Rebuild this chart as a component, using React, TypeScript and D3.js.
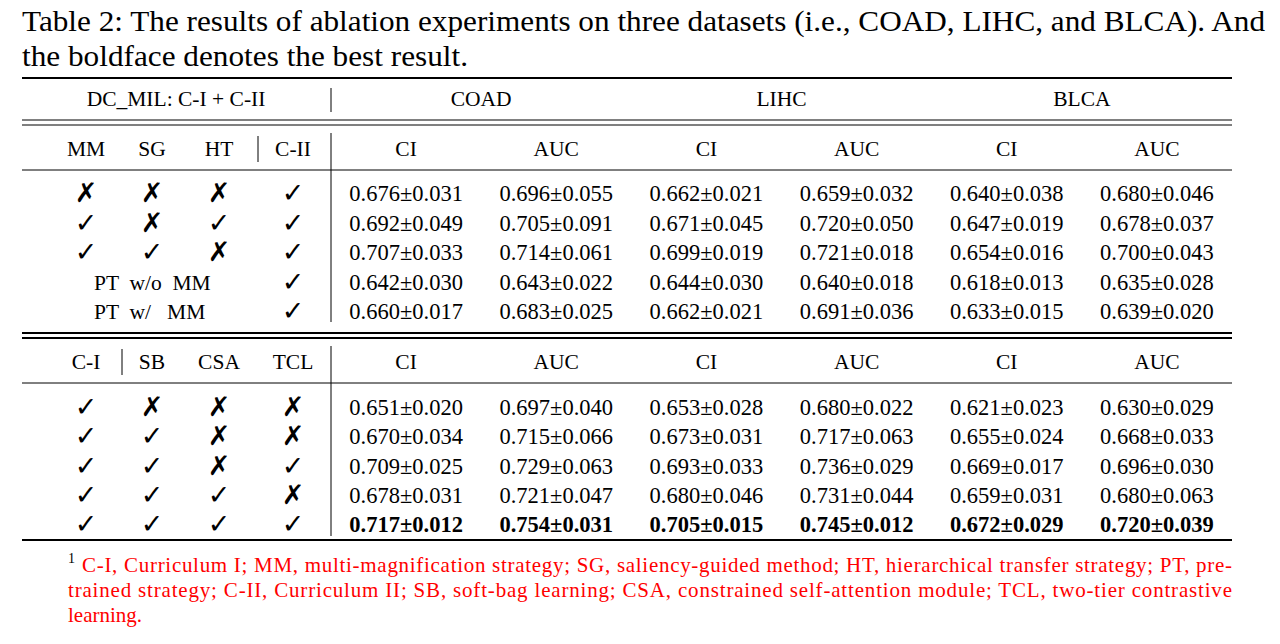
import * as d3 from "d3";

const datasets = ["COAD", "LIHC", "BLCA"];
const metrics = ["CI", "AUC", "CI", "AUC", "CI", "AUC"];
const headA = ["MM", "SG", "HT", "C-II"];
const headB = ["C-I", "SB", "CSA", "TCL"];

// marks: 1 = check, 0 = cross
const flagsA = [
  [0, 0, 0, 1],
  [1, 0, 1, 1],
  [1, 1, 0, 1],
];
const ptRows = ["PT  w/o  MM", "PT  w/   MM"];
const meansA = [
  [0.676, 0.696, 0.662, 0.659, 0.64, 0.68],
  [0.692, 0.705, 0.671, 0.72, 0.647, 0.678],
  [0.707, 0.714, 0.699, 0.721, 0.654, 0.7],
  [0.642, 0.643, 0.644, 0.64, 0.618, 0.635],
  [0.66, 0.683, 0.662, 0.691, 0.633, 0.639],
];
const stdsA = [
  [0.031, 0.055, 0.021, 0.032, 0.038, 0.046],
  [0.049, 0.091, 0.045, 0.05, 0.019, 0.037],
  [0.033, 0.061, 0.019, 0.018, 0.016, 0.043],
  [0.03, 0.022, 0.03, 0.018, 0.013, 0.028],
  [0.017, 0.025, 0.021, 0.036, 0.015, 0.02],
];
const flagsB = [
  [1, 0, 0, 0],
  [1, 1, 0, 0],
  [1, 1, 0, 1],
  [1, 1, 1, 0],
  [1, 1, 1, 1],
];
const meansB = [
  [0.651, 0.697, 0.653, 0.68, 0.621, 0.63],
  [0.67, 0.715, 0.673, 0.717, 0.655, 0.668],
  [0.709, 0.729, 0.693, 0.736, 0.669, 0.696],
  [0.678, 0.721, 0.68, 0.731, 0.659, 0.68],
  [0.717, 0.754, 0.705, 0.745, 0.672, 0.72],
];
const stdsB = [
  [0.02, 0.04, 0.028, 0.022, 0.023, 0.029],
  [0.034, 0.066, 0.031, 0.063, 0.024, 0.033],
  [0.025, 0.063, 0.033, 0.029, 0.017, 0.03],
  [0.031, 0.047, 0.046, 0.044, 0.031, 0.063],
  [0.012, 0.031, 0.015, 0.012, 0.029, 0.039],
];
const boldRowB = 4;
const footnote = [
  "C-I, Curriculum I; MM, multi-magnification strategy; SG, saliency-guided method; HT, hierarchical transfer strategy; PT, pre-",
  "trained strategy; C-II, Curriculum II; SB, soft-bag learning; CSA, constrained self-attention module; TCL, two-tier contrastive",
  "learning.",
];

const FONT = "'Liberation Serif', 'Times New Roman', serif";
const fmt = d3.format(".3f");
const FS = 22.5;

export default function App() {
  const W = 1280, H = 644;
  const L = 22, R = 1232, sep = 331;
  const x = d3.scaleBand<number>().domain(d3.range(6)).range([sep, R]);
  const xc = (i: number) => x(i)! + x.bandwidth() / 2;
  const xl = d3.scaleOrdinal<number, number>().domain([0, 1, 2, 3]).range([86, 152, 219, 293]);
  const xlB = d3.scaleOrdinal<number, number>().domain([0, 1, 2, 3]).range([86, 152, 219, 293]);
  const yA = d3.scaleLinear().domain([0, 4]).range([193, 311]);
  const yB = d3.scaleLinear().domain([0, 4]).range([407, 524]);

  const mark = (v: number, cx: number, cy: number, k: string) => (
    <text key={k} x={cx} y={cy + 9} textAnchor="middle" fontSize={27} fontFamily="'DejaVu Sans', sans-serif" fill="#000">
      {v ? "✓" : "✗"}
    </text>
  );
  const cell = (m: number, s: number, cx: number, cy: number, bold: boolean, k: string) => (
    <text key={k} x={cx} y={cy + 8} textAnchor="middle" fontSize={FS} fontWeight={bold ? "bold" : "normal"}>
      {fmt(m)}±{fmt(s)}
    </text>
  );
  const line = (y: number, w = 1, k?: string) => <line key={k} x1={L} x2={R} y1={y} y2={y} stroke="#000" strokeWidth={w} />;

  return (
    <svg width={W} height={H} style={{ position: "absolute", left: 0, top: 0, background: "#fff" }} fontFamily={FONT}>
      <text x={22} y={31} fontSize={29} textLength={1243} lengthAdjust="spacingAndGlyphs">Table 2: The results of ablation experiments on three datasets (i.e., COAD, LIHC, and BLCA). And</text>
      <text x={22} y={66} fontSize={29} textLength={446} lengthAdjust="spacingAndGlyphs">the boldface denotes the best result.</text>

      {line(78, 2)}
      <text x={176} y={106} textAnchor="middle" fontSize={FS - 1}>DC_MIL: C-I + C-II</text>
      {datasets.map((d, i) => (
        <text key={d} x={(xc(i * 2) + xc(i * 2 + 1)) / 2} y={106} textAnchor="middle" fontSize={FS - 1}>{d}</text>
      ))}
      {line(120, 1)}
      {line(125, 1)}
      {headA.map((h, i) => <text key={h} x={xl(i)} y={156} textAnchor="middle" fontSize={FS - 1}>{h}</text>)}
      <line x1={258} x2={258} y1={136} y2={162} stroke="#000" />
      {metrics.map((m, i) => <text key={"ma" + i} x={xc(i)} y={156} textAnchor="middle" fontSize={FS - 1}>{m}</text>)}
      {line(170, 1)}
      {flagsA.map((r, ri) => r.map((v, ci) => mark(v, xl(ci), yA(ri), `fa${ri}${ci}`)))}
      {ptRows.map((t, i) => (
        <g key={t}>
          <text x={94} y={yA(3 + i) + 8} fontSize={FS - 1} style={{ whiteSpace: "pre" }}>{t}</text>
          {mark(1, xl(3), yA(3 + i), "pt" + i)}
        </g>
      ))}
      {meansA.map((r, ri) => r.map((m, ci) => cell(m, stdsA[ri][ci], xc(ci), yA(ri), false, `ca${ri}${ci}`)))}

      {line(333, 2)}
      {line(338, 2)}
      {headB.map((h, i) => <text key={h} x={xlB(i)} y={369} textAnchor="middle" fontSize={FS - 1}>{h}</text>)}
      <line x1={122} x2={122} y1={349} y2={375} stroke="#000" />
      {metrics.map((m, i) => <text key={"mb" + i} x={xc(i)} y={369} textAnchor="middle" fontSize={FS - 1}>{m}</text>)}
      {line(383, 1)}
      {flagsB.map((r, ri) => r.map((v, ci) => mark(v, xlB(ci), yB(ri), `fb${ri}${ci}`)))}
      {meansB.map((r, ri) => r.map((m, ci) => cell(m, stdsB[ri][ci], xc(ci), yB(ri), ri === boldRowB, `cb${ri}${ci}`)))}
      {line(540, 2)}

      <line x1={sep} x2={sep} y1={88} y2={112} stroke="#000" />
      <line x1={sep} x2={sep} y1={133} y2={322} stroke="#000" />
      <line x1={sep} x2={sep} y1={346} y2={536} stroke="#000" />

      <text x={68} y={563} fontSize={14}>1</text>
      {footnote.map((t, i) => (
        <text key={i} x={i === 0 ? 82 : 68} y={572 + i * 25} fontSize={21} fill="#ff0000"
          textLength={i < 2 ? (i === 0 ? 1150 : 1164) : undefined} lengthAdjust="spacing">{t}</text>
      ))}
    </svg>
  );
}
